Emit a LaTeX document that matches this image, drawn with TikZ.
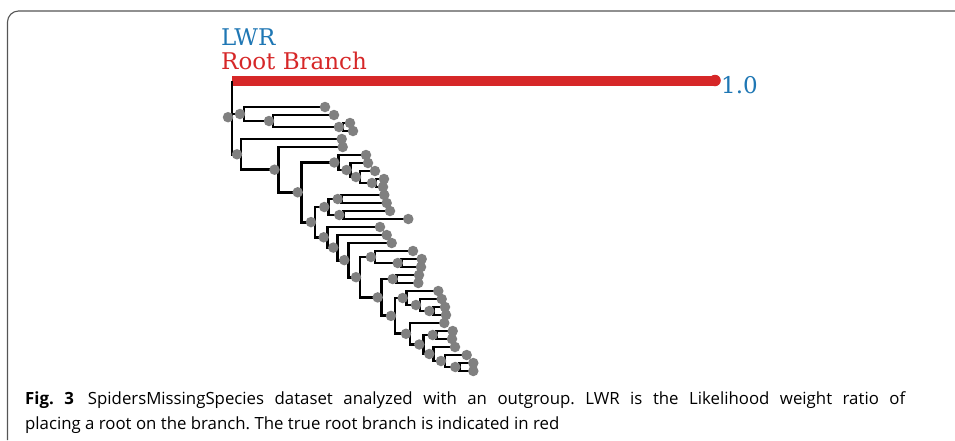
\documentclass[tikz,border=0pt]{standalone}
\usepackage{fontspec}
\setmainfont{Open Sans}
\newfontfamily\plotfont{DejaVu Serif}
\definecolor{lwrblue}{HTML}{1F77B4}
\definecolor{rootred}{HTML}{D62728}
\definecolor{dotgray}{HTML}{808080}
\definecolor{framecol}{HTML}{555555}
\tikzset{
  branch/.style={line width=2.9pt, black},
  redbar/.style={line width=10pt, rootred},
  gdot/.style={circle, fill=dotgray, draw=none, inner sep=0pt, minimum size=10.5pt},
  reddot/.style={circle, fill=rootred, draw=none, inner sep=0pt, minimum size=11.5pt},
  plotlabel/.style={anchor=base west, inner sep=0pt, font=\plotfont\fontsize{23}{27}\selectfont},
  captext/.style={anchor=base west, inner sep=0pt, font=\fontsize{16.8}{20}\selectfont\frenchspacing},
}
\begin{document}
\begin{tikzpicture}[x=1pt,y=-1pt]
\useasboundingbox (0,0) rectangle (955,440);
% frame
\draw[framecol, line width=1.1pt, rounded corners=11pt] (7.5,440) -- (7.5,11) -- (955,11);
% coordinates of internal nodes
\coordinate (root) at (232,117.2);
\coordinate (OG) at (715,80.5);
\coordinate (A) at (244,114);
\coordinate (A2) at (273,121);
\coordinate (A3) at (343,127);
\coordinate (B) at (241,154.3);
\coordinate (C) at (278.5,169.7);
\coordinate (D) at (301.7,192.3);
\coordinate (E) at (338.3,162.5);
\coordinate (G) at (350.5,170);
\coordinate (X1) at (360,177);
\coordinate (X0) at (376,183);
\coordinate (F) at (315,222.1);
\coordinate (I) at (328.3,207);
\coordinate (K) at (341.7,199);
\coordinate (M) at (343.3,215);
\coordinate (J) at (327.7,237.3);
\coordinate (N) at (337.3,247.6);
\coordinate (P) at (348.3,260.1);
\coordinate (Q) at (360,277.2);
\coordinate (R) at (375,257);
\coordinate (S) at (401.7,263);
\coordinate (U) at (381.7,297.4);
\coordinate (T) at (396.7,279);
\coordinate (Y) at (395,315.9);
\coordinate (V) at (406.7,298);
\coordinate (W) at (420,305);
\coordinate (X2) at (433.3,311);
\coordinate (Z) at (410,333.75);
\coordinate (AA) at (423.3,344.5);
\coordinate (AB) at (436.7,335);
\coordinate (AC) at (433.3,354);
\coordinate (AD) at (445,361);
\coordinate (AE) at (459.3,367);
% leaves
\coordinate (L1) at (325,107);
\coordinate (L2) at (334,115);
\coordinate (L3) at (350,123);
\coordinate (L4) at (353,131);
\coordinate (L5) at (341.7,139);
\coordinate (L6) at (342.7,147);
\coordinate (L7) at (366,155);
\coordinate (L8) at (368,163);
\coordinate (L9) at (375,171);
\coordinate (L10) at (384,179);
\coordinate (L11) at (383,187);
\coordinate (L12) at (384.3,195);
\coordinate (L13) at (386.7,203);
\coordinate (L14) at (390,211);
\coordinate (L15) at (408.3,219);
\coordinate (L16) at (380,227);
\coordinate (L17) at (386.7,235);
\coordinate (L18) at (391.7,243);
\coordinate (L19) at (413,251);
\coordinate (L20) at (421.7,259);
\coordinate (L21) at (421,267);
\coordinate (L22) at (419,275);
\coordinate (L23) at (418.3,283);
\coordinate (L24) at (438.3,291);
\coordinate (L25) at (441.7,299);
\coordinate (L26) at (445,307);
\coordinate (L27) at (446,315);
\coordinate (L28) at (444.3,323);
\coordinate (L29) at (452.7,331);
\coordinate (L30) at (452,339);
\coordinate (L31) at (455,347);
\coordinate (L32) at (466.7,355);
\coordinate (L33) at (473.3,363);
\coordinate (L34) at (473.3,371);
% root branch (red)
\draw[redbar] (root |- OG) -- (OG);
\node[reddot] (dOG) at (OG) {};
% branches
\draw[branch] (root) -- (root |- OG);
\foreach \p/\c in {root/A, root/B, A/L1, A/A2, A2/L2, A2/A3, A3/L3, A3/L4,
  B/L5, B/C, C/L6, C/D, D/E, D/F, E/L7, E/G, G/L8, G/X1, X1/L9, X1/X0,
  X0/L10, X0/L11, F/I, F/J, I/K, I/M, K/L12, K/L13, M/L14, M/L15,
  J/L16, J/N, N/L17, N/P, P/L18, P/Q, Q/R, Q/U, R/L19, R/S, S/L20, S/L21,
  U/T, U/Y, T/L22, T/L23, Y/V, Y/Z, V/L24, V/W, W/L25, W/X2, X2/L26, X2/L27,
  Z/L28, Z/AA, AA/AB, AA/AC, AB/L29, AB/L30, AC/L31, AC/AD, AD/L32, AD/AE,
  AE/L33, AE/L34}
  \draw[branch] (\p) |- (\c);
% internal node dots
\foreach \n in {root,A,A2,A3,B,C,D,E,G,X1,X0,F,I,K,M,J,N,P,Q,R,S,U,T,Y,V,W,X2,Z,AA,AB,AC,AD,AE}
  \node[gdot, xshift=-4pt] (d\n) at (\n) {};
% leaf dots
\foreach \n in {1,...,34}
  \node[gdot] (dL\n) at (L\n) {};
% labels
\node[plotlabel, text=lwrblue] (lwr) at (221,45) {LWR};
\node[plotlabel, text=rootred] (rb) at (221,69) {Root Branch};
\node[plotlabel, text=lwrblue] (val) at (721,93) {1.0};
% caption
\node[captext] (cap1) at (25,404) {\makebox[880pt][s]{\textbf{Fig.~3}\kern 14pt SpidersMissingSpecies dataset analyzed with an outgroup. LWR is the Likelihood weight ratio of}};
\node[captext] (cap2) at (25,429) {placing a root on the branch. The true root branch is indicated in red};
\end{tikzpicture}
\end{document}
